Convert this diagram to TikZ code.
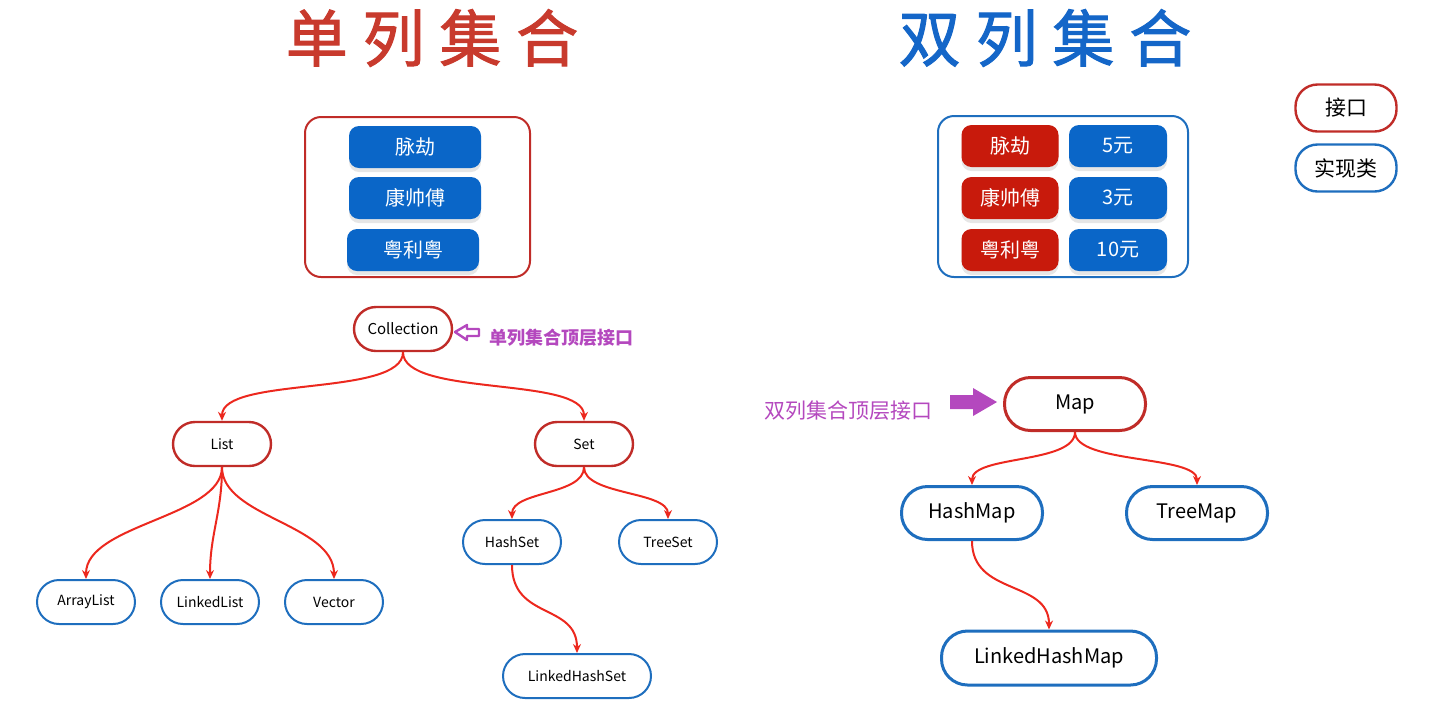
\documentclass[tikz,border=0pt]{standalone}
\usepackage{fontspec}
\setmainfont{Noto Sans CJK SC}
\newfontfamily\titlefont[LetterSpace=24,FakeBold=1.6]{Noto Sans CJK SC}
\usepackage{tikz}
\usetikzlibrary{arrows.meta}
\usetikzlibrary{shadows}
\usepackage{xcolor}

\definecolor{ifred}{RGB}{192,44,40}
\definecolor{impblue}{RGB}{30,110,190}
\definecolor{arrred}{RGB}{236,40,30}
\definecolor{boxblue}{RGB}{10,102,200}
\definecolor{boxred}{RGB}{200,26,12}
\definecolor{titred}{RGB}{200,58,45}
\definecolor{titblue}{RGB}{20,102,200}
\definecolor{labpurple}{RGB}{180,72,190}

\begin{document}
\begin{tikzpicture}[x=0.5pt,y=-0.5pt,
    jiekou/.style={draw=ifred,line width=1.2pt,rounded corners=11pt,fill=white,
      minimum width=49pt,minimum height=22pt,inner sep=0pt,
      font=\fontsize{7}{8}\selectfont},
    shixian/.style={jiekou,draw=impblue,line width=1pt},
    bigjiekou/.style={jiekou,line width=1.5pt,rounded corners=13pt,
      minimum width=70.5pt,minimum height=26.5pt,font=\fontsize{10}{12}\selectfont},
    bigshixian/.style={bigjiekou,draw=impblue},
    pinpai/.style={fill=boxblue,text=white,rounded corners=5pt,inner sep=0pt,
      minimum width=66pt,minimum height=21pt,font=\fontsize{10}{12}\selectfont,
      drop shadow={shadow xshift=0pt,shadow yshift=-2pt,opacity=0.2}},
    link/.style={draw=arrred,line width=1pt,-{Stealth[length=4.5pt,width=4pt]}}]
        \useasboundingbox (0,0) rectangle (1434,714);

        %------------------
        % 見出し
        %------------------
        \node[text=titred,font=\titlefont\fontsize{31}{31}\selectfont] (titl) at (432,38) {单列集合};
        \node[text=titblue,font=\titlefont\fontsize{31}{31}\selectfont] (titr) at (1045,38) {双列集合};

        %------------------
        % 上の枠
        %------------------
        \draw[ifred,line width=1pt,rounded corners=8pt] (305,117) rectangle (530,277);
        \node[pinpai] (a1) at (415,147) {脉劫};
        \node[pinpai] (a2) at (415,198) {康帅傅};
        \node[pinpai] (a3) at (413,250) {粤利粤};

        \draw[impblue,line width=1pt,rounded corners=8pt] (938,116) rectangle (1188,277);
        \node[pinpai,fill=boxred,minimum width=48.5pt] (k1) at (1010,146) {脉劫};
        \node[pinpai,fill=boxred,minimum width=48.5pt] (k2) at (1010,198) {康帅傅};
        \node[pinpai,fill=boxred,minimum width=48.5pt] (k3) at (1010,250) {粤利粤};
        \node[pinpai,minimum width=49pt] (v1) at (1118,146) {5元};
        \node[pinpai,minimum width=49pt] (v2) at (1118,198) {3元};
        \node[pinpai,minimum width=49pt] (v3) at (1118,250) {10元};

        % 凡例
        \node[jiekou,minimum width=50.5pt,minimum height=23.5pt,font=\fontsize{10.5}{12}\selectfont] (lg1) at (1346,108) {接口};
        \node[shixian,minimum width=50.5pt,minimum height=23.5pt,line width=1.2pt,font=\fontsize{10.5}{12}\selectfont] (lg2) at (1346,168) {实现类};

        %------------------
        % Collection
        %------------------
        \node[jiekou,font=\fontsize{7.5}{8}\selectfont] (coll) at (403,329) {Collection};
        \node[jiekou] (list) at (222,444) {List};
        \node[jiekou] (set) at (584,444) {Set};
        \node[shixian] (al) at (86,602) {ArrayList};
        \node[shixian] (ll) at (210,602) {LinkedList};
        \node[shixian] (vec) at (334,602) {Vector};
        \node[shixian] (hs) at (512,542) {HashSet};
        \node[shixian] (ts) at (668,542) {TreeSet};
        \node[shixian,minimum width=74pt] (lhs) at (577,676) {LinkedHashSet};

        \draw[link] (coll.south) .. controls +(0,45) and +(0,-45) .. (list.north);
        \draw[link] (coll.south) .. controls +(0,45) and +(0,-45) .. (set.north);
        \draw[link] (list.south) .. controls +(0,50) and +(0,-55) .. (al.north);
        \draw[link] (list.south) .. controls +(0,45) and +(0,-45) .. (ll.north);
        \draw[link] (list.south) .. controls +(0,50) and +(0,-55) .. (vec.north);
        \draw[link] (set.south) .. controls +(0,28) and +(0,-28) .. (hs.north);
        \draw[link] (set.south) .. controls +(0,28) and +(0,-28) .. (ts.north);
        \draw[link] (hs.south) .. controls +(0,55) and +(0,-50) .. (lhs.north);

        % ラベル
        \draw[labpurple,line width=1.2pt,line join=round]
          (455,332)--(467,325)--(467,329)--(479,329)--(479,336)--(467,336)--(467,340)--cycle;
        \node[text=labpurple,font=\bfseries\fontsize{9}{10}\selectfont] (lab1) at (561,338) {单列集合顶层接口};

        %------------------
        % Map
        %------------------
        \node[bigjiekou] (map) at (1075,404) {Map};
        \node[bigshixian] (hm) at (972,513) {HashMap};
        \node[bigshixian] (tm) at (1197,513) {TreeMap};
        \node[bigshixian,minimum width=107.5pt,minimum height=27pt] (lhm) at (1049,658) {LinkedHashMap};

        \draw[link] (map.south) .. controls +(0,32) and +(0,-30) .. (hm.north);
        \draw[link] (map.south) .. controls +(0,32) and +(0,-30) .. (tm.north);
        \draw[link] (hm.south) .. controls +(0,55) and +(0,-50) .. (lhm.north);

        % ラベル
        \fill[labpurple] (950,395)--(973,395)--(973,388)--(997,402)--(973,416)--(973,409)--(950,409)--cycle;
        \node[text=labpurple,font=\fontsize{10.5}{12}\selectfont] (lab2) at (848,411) {双列集合顶层接口};
      \end{tikzpicture}
\end{document}
